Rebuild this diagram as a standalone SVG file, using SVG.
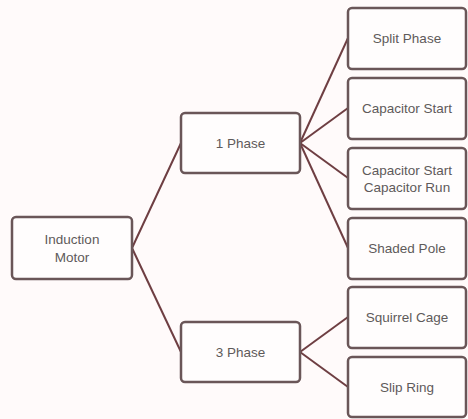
<svg xmlns="http://www.w3.org/2000/svg" width="468" height="419" viewBox="0 0 468 419">
<style>
.box{fill:#fffdfd;stroke:#6a5658;stroke-width:2.5}
.lbl{font-family:"Liberation Sans",Arial,sans-serif;font-size:13.5px;fill:#5e5a5a;text-anchor:middle;dominant-baseline:central}
.conn{stroke:#6e3e42;stroke-width:2;fill:none}
</style>
<rect x="0" y="0" width="468" height="419" fill="#fffafa"/>
<g id="connectors">
<line class="conn" x1="132" y1="248" x2="181" y2="143"/>
<line class="conn" x1="132" y1="248" x2="181" y2="352"/>
<line class="conn" x1="300" y1="143" x2="348" y2="38"/>
<line class="conn" x1="300" y1="143" x2="348" y2="108"/>
<line class="conn" x1="300" y1="143" x2="348" y2="178"/>
<line class="conn" x1="300" y1="143" x2="348" y2="248"/>
<line class="conn" x1="300" y1="352" x2="348" y2="317"/>
<line class="conn" x1="300" y1="352" x2="348" y2="387"/>
</g>
<g id="induction-motor">
<rect class="box" x="12" y="217" width="120" height="62" rx="4"/>
<text class="lbl" x="72" y="239">Induction</text>
<text class="lbl" x="72" y="257">Motor</text>
</g>
<g id="phase1">
<rect class="box" x="181" y="113" width="119" height="60" rx="4"/>
<text class="lbl" x="240.5" y="143">1 Phase</text>
</g>
<g id="phase3">
<rect class="box" x="181" y="322" width="119" height="60" rx="4"/>
<text class="lbl" x="240.5" y="352">3 Phase</text>
</g>
<g id="split-phase">
<rect class="box" x="348" y="8" width="118" height="61" rx="4"/>
<text class="lbl" x="407" y="38.5">Split Phase</text>
</g>
<g id="capacitor-start">
<rect class="box" x="348" y="78" width="118" height="61" rx="4"/>
<text class="lbl" x="407" y="108.5">Capacitor Start</text>
</g>
<g id="capacitor-start-run">
<rect class="box" x="348" y="148" width="118" height="61" rx="4"/>
<text class="lbl" x="407" y="170">Capacitor Start</text>
<text class="lbl" x="407" y="187">Capacitor Run</text>
</g>
<g id="shaded-pole">
<rect class="box" x="348" y="218" width="118" height="61" rx="4"/>
<text class="lbl" x="407" y="248.5">Shaded Pole</text>
</g>
<g id="squirrel-cage">
<rect class="box" x="348" y="287" width="118" height="61" rx="4"/>
<text class="lbl" x="407" y="317.5">Squirrel Cage</text>
</g>
<g id="slip-ring">
<rect class="box" x="348" y="357" width="118" height="60" rx="4"/>
<text class="lbl" x="407" y="387">Slip Ring</text>
</g>
</svg>
